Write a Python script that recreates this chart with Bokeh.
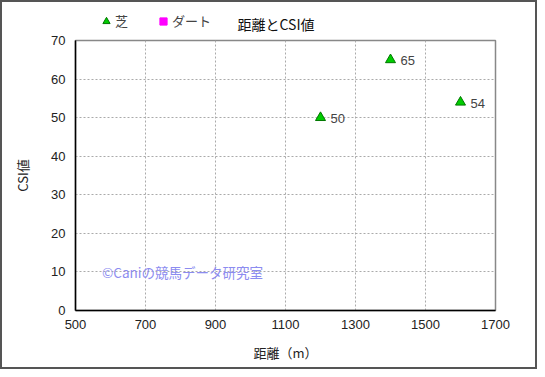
from bokeh.plotting import figure
from bokeh.layouts import column
from bokeh.models import ColumnDataSource, Legend, LegendItem, Label, FixedTicker, Range1d
from bokeh.core.properties import value
from bokeh.embed import file_html
from bokeh.resources import INLINE

# data
turf_dist = [1200, 1400, 1600]
turf_csi = [50, 65, 54]
dirt_dist = []
dirt_csi = []
x_ticks = [500, 700, 900, 1100, 1300, 1500, 1700]
y_ticks = [0, 10, 20, 30, 40, 50, 60, 70]
title_text = "距離とCSI値"
series_names = ["芝", "ダート"]

JP = "Noto Sans CJK JP"
NUM = "Liberation Sans"
W = 537
TOP_H = 32
BORDER = "2px solid #555555"
NAN = float("nan")

# header strip: legend + title
head = figure(width=W, height=TOP_H, output_backend="svg", toolbar_location=None,
              x_range=Range1d(0, 1), y_range=Range1d(0, 1),
              x_axis_type=None, y_axis_type=None,
              min_border_left=0, min_border_right=0, min_border_top=0, min_border_bottom=0,
              styles={"border-top": BORDER, "border-left": BORDER, "border-right": BORDER,
                      "box-sizing": "border-box"})
head.outline_line_color = None
head.grid.visible = False
proxy = ColumnDataSource(dict(x=[NAN], y=[NAN]))
h1 = head.scatter("x", "y", source=proxy, marker="triangle", size=10,
                  fill_color="#00cc00", line_color="#007700")
h2 = head.scatter("x", "y", source=proxy, marker="square", size=9,
                  fill_color="#ff00ff", line_color="#ff00ff")
legend = Legend(items=[LegendItem(label=series_names[0], renderers=[h1]),
                       LegendItem(label=series_names[1], renderers=[h2])],
                orientation="horizontal", location=(22, 4),
                label_text_font=JP, label_text_font_size="13px",
                label_text_color="#444444", glyph_width=18, glyph_height=18,
                label_height=18, label_width=10,
                label_standoff=-3, spacing=26, padding=0, margin=0,
                border_line_color=None, background_fill_alpha=0)
head.add_layout(legend, "center")
head.add_layout(Label(x=162, y=11, x_units="screen", y_units="screen",
                      text=title_text, text_font=JP, text_font_size="14px",
                      text_color="#111111", text_baseline="middle"))

# main chart
p = figure(width=W, height=369 - TOP_H, output_backend="svg", toolbar_location=None,
           x_range=Range1d(500, 1700), y_range=Range1d(0, 70),
           min_border_left=73, min_border_right=44, min_border_top=40 - TOP_H,
           min_border_bottom=59,
           styles={"border-bottom": BORDER, "border-left": BORDER, "border-right": BORDER,
                   "box-sizing": "border-box"})
p.outline_line_color = "#888888"
p.outline_line_width = 1.5

for ax, tks in ((p.xaxis, x_ticks), (p.yaxis, y_ticks)):
    ax.ticker = FixedTicker(ticks=tks)
    ax.major_tick_out = 0
    ax.major_tick_in = 0
    ax.minor_tick_out = 0
    ax.minor_tick_in = 0
    ax.axis_line_color = "black"
    ax.axis_line_width = 1.5
    ax.major_label_text_font = NUM
    ax.major_label_text_font_size = "13px"
    ax.major_label_text_color = "#222222"
    ax.axis_label_text_font = JP
    ax.axis_label_text_font_size = "13px"
    ax.axis_label_text_font_style = "normal"
    ax.axis_label_text_color = "#222222"
p.xaxis.axis_label = "距離（m）"
p.yaxis.axis_label = "CSI値"
p.xaxis.major_label_standoff = 9
p.yaxis.major_label_standoff = 10
p.xaxis.axis_label_standoff = 11
p.yaxis.axis_label_standoff = 16

p.grid.grid_line_color = "#aaaaaa"
p.grid.grid_line_dash = "2 2"
p.grid.grid_line_width = 1

src = ColumnDataSource(dict(x=turf_dist, y=turf_csi, lab=[str(v) for v in turf_csi]))
dsrc = ColumnDataSource(dict(x=dirt_dist, y=dirt_csi))
p.scatter("x", "y", source=src, marker="triangle", size=10,
          fill_color="#00cc00", line_color="#007700", line_width=1)
p.scatter("x", "y", source=dsrc, marker="square", size=9,
          fill_color="#ff00ff", line_color="#ff00ff")
p.text("x", "y", text="lab", source=src, x_offset=10, y_offset=1,
       text_font=value(NUM), text_font_size="13px", text_color="#444444",
       text_baseline="middle", text_align="left")

wm = Label(x=576, y=10, text="©Caniの競馬データ研究室", text_font=JP,
           text_font_size="13.5px", text_color="#8c8cf0", text_baseline="middle")
p.add_layout(wm)

layout = column(head, p, spacing=0)
open("out.html", "w").write(file_html(layout, INLINE))
